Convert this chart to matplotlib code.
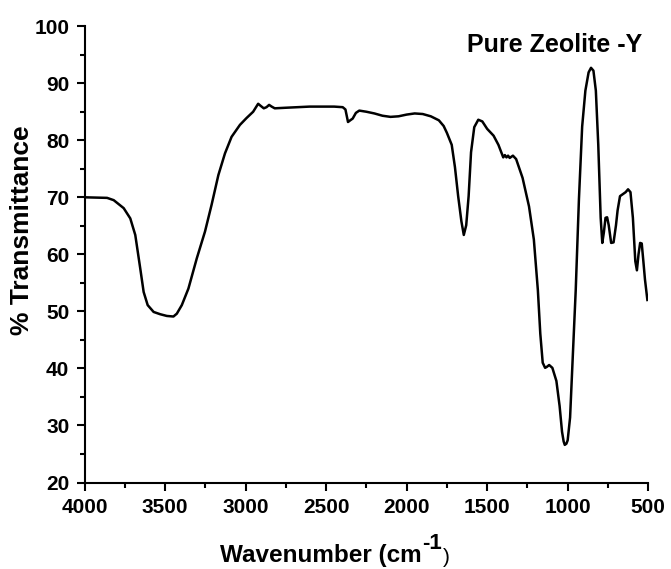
import matplotlib.pyplot as plt
from matplotlib.ticker import MultipleLocator

# FTIR spectrum
wavenumber = [4000, 3860, 3819, 3757, 3716, 3685, 3654, 3633, 3608, 3571, 3530, 3489,
              3448, 3427, 3396, 3355, 3303, 3252, 3211, 3169, 3128, 3087, 3035, 2994,
              2953, 2922, 2905, 2887, 2870, 2854, 2838, 2819, 2750, 2603, 2450, 2397,
              2380, 2364, 2350, 2335, 2315, 2294, 2250, 2200, 2150, 2100, 2050, 2000,
              1950, 1900, 1850, 1800, 1770, 1750, 1720, 1700, 1680, 1660, 1645, 1630,
              1615, 1600, 1580, 1555, 1530, 1500, 1460, 1430, 1400, 1390, 1380, 1370,
              1360, 1340, 1320, 1280, 1240, 1210, 1185, 1170, 1155, 1140, 1128, 1115,
              1095, 1070, 1050, 1035, 1025, 1018, 1008, 1000, 985, 970, 950, 930, 910,
              890, 870, 855, 840, 825, 810, 795, 785, 775, 765, 755, 745, 730, 715, 700,
              690, 675, 655, 640, 625, 610, 595, 580, 570, 560, 550, 540, 530, 520, 505]
transmittance = [70.0, 69.9, 69.5, 68.1, 66.3, 63.4, 57.5, 53.4, 51.1, 49.9, 49.5, 49.2,
                 49.1, 49.6, 51.1, 54.0, 59.3, 64.0, 68.7, 73.9, 77.7, 80.6, 82.7, 83.9,
                 85.0, 86.4, 86.0, 85.6, 85.8, 86.2, 85.9, 85.6, 85.7, 85.9, 85.9, 85.8,
                 85.4, 83.2, 83.5, 83.8, 84.8, 85.2, 85.0, 84.7, 84.3, 84.1, 84.2, 84.5,
                 84.7, 84.6, 84.2, 83.5, 82.5, 81.3, 79.2, 75.3, 70.2, 65.8, 63.4, 65.1,
                 70.2, 77.9, 82.3, 83.6, 83.3, 82.0, 80.8, 79.2, 77.0, 77.4, 77.0, 77.3,
                 76.9, 77.3, 76.7, 73.4, 68.4, 62.6, 53.7, 46.1, 41.0, 40.1, 40.3, 40.6,
                 40.1, 37.8, 33.4, 28.9, 27.2, 26.6, 26.8, 27.4, 31.4, 41.0, 53.7, 69.7, 82.4,
                 88.7, 91.9, 92.7, 92.2, 88.7, 79.2, 66.4, 62.0, 63.9, 66.4, 66.5, 65.1,
                 62.0, 62.1, 65.1, 67.7, 70.2, 70.6, 70.9, 71.4, 70.9, 66.4, 58.8, 57.2,
                 60.0, 62.0, 61.9, 58.8, 55.6, 52.0]

plt.rcParams['font.family'] = ['Liberation Sans', 'DejaVu Sans']
plt.rcParams['font.weight'] = 'bold'

fig = plt.figure(figsize=(6.71, 5.69), dpi=100)
ax = fig.add_axes([0.126, 0.152, 0.840, 0.802])
ax.plot(wavenumber, transmittance, color='black', linewidth=1.8)

ax.set_xlim(4000, 500)
ax.set_ylim(20, 100)
ax.xaxis.set_major_locator(MultipleLocator(500))
ax.xaxis.set_minor_locator(MultipleLocator(250))
ax.yaxis.set_major_locator(MultipleLocator(10))
ax.yaxis.set_minor_locator(MultipleLocator(5))
ax.spines['top'].set_visible(False)
ax.spines['right'].set_visible(False)
for s in ['left', 'bottom']:
    ax.spines[s].set_linewidth(1.5)
ax.tick_params(which='major', length=6, width=1.5, labelsize=15, pad=5)
ax.tick_params(which='minor', length=3.5, width=1.5)

# axis titles placed by hand, as in the picture
fig.text(0.033, 0.596, '% Transmittance', rotation=90, ha='center', va='center',
         fontsize=19, fontweight='bold')
t1 = fig.text(0.328, 0.013, 'Wavenumber (cm', ha='left', va='baseline',
              fontsize=17.5, fontweight='bold')
t2 = ax.annotate('-1', xy=(1, 0), xycoords=t1, xytext=(0.5, 9), textcoords='offset points',
                 ha='left', va='bottom', fontsize=16, fontweight='bold', annotation_clip=False)
ax.annotate(')', xy=(1, 0), xycoords=t2, xytext=(0.5, -9), textcoords='offset points',
            ha='left', va='bottom', fontsize=15, fontweight='normal', annotation_clip=False)

fig.text(0.957, 0.909, 'Pure Zeolite -Y', ha='right', va='baseline',
         fontsize=18, fontweight='bold')

fig.savefig('out.png', dpi=100)
